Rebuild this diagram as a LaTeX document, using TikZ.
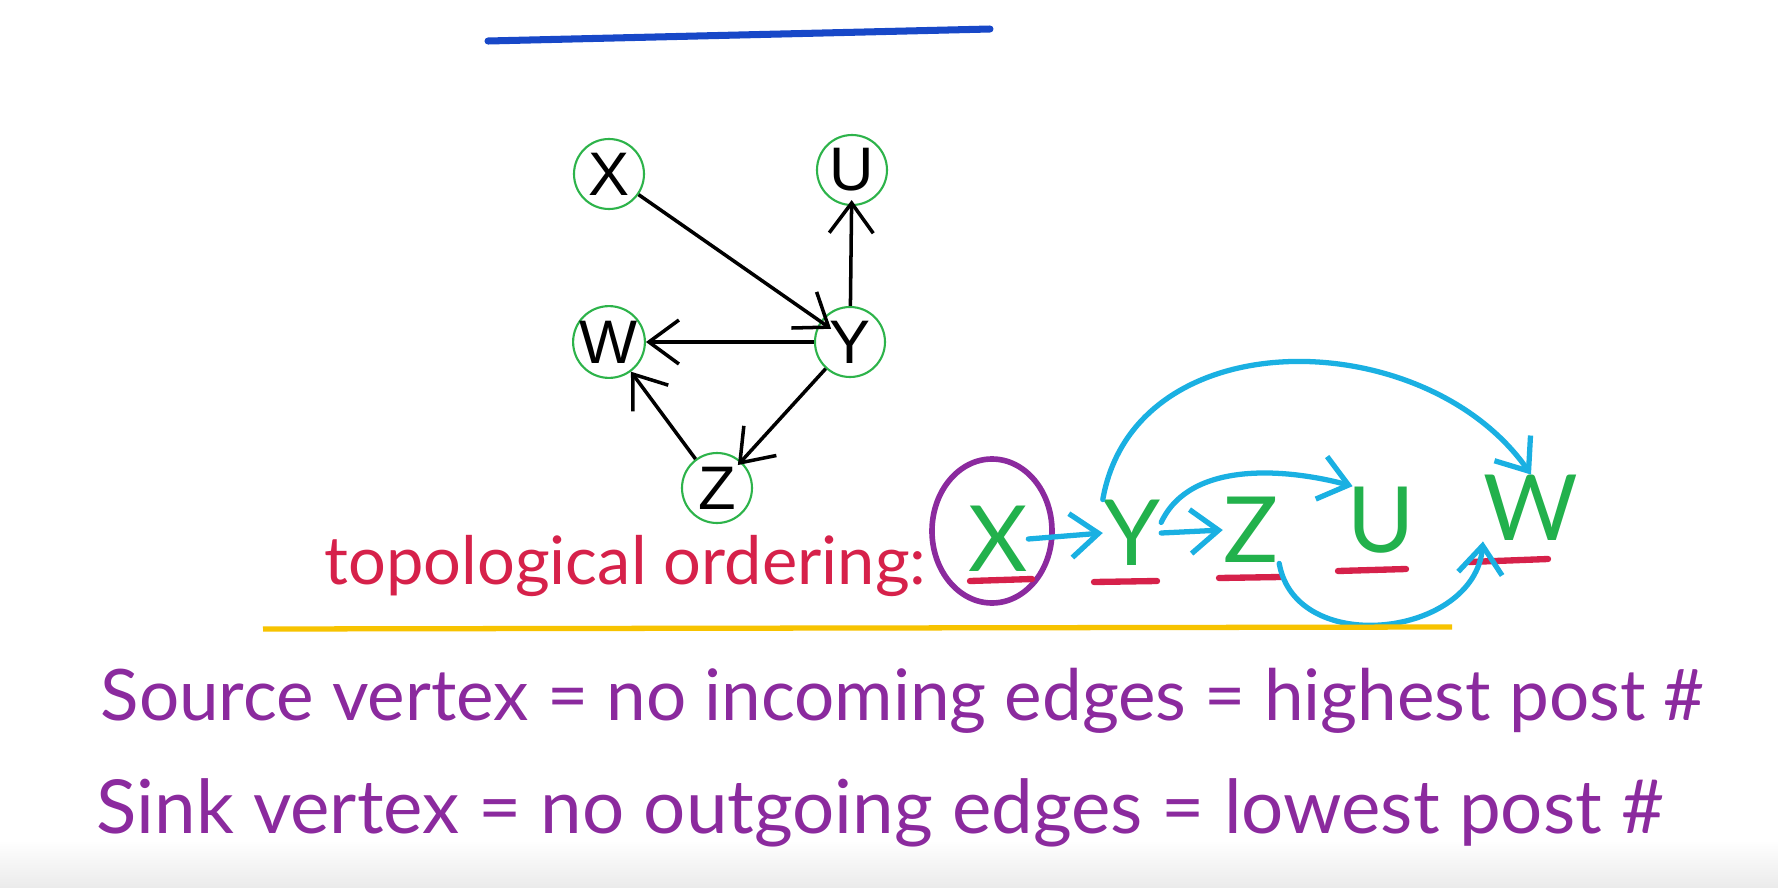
\documentclass[tikz,border=0pt]{standalone}
\usepackage{fontspec}
\setmainfont{Liberation Sans}
\newfontfamily\handfont{Lato}
\usetikzlibrary{arrows.meta,positioning,calc}

\definecolor{ringgreen}{HTML}{2DB34A}
\definecolor{inkgreen}{HTML}{22B14C}
\definecolor{inkred}{HTML}{D6214A}
\definecolor{inkpurple}{HTML}{8B2A9E}
\definecolor{inkcyan}{HTML}{1AB0E2}
\definecolor{inkyellow}{HTML}{F7C300}
\definecolor{inkblue}{HTML}{1848C8}

\begin{document}
\begin{tikzpicture}[x=0.1mm, y=-0.1mm,
  vertex/.style={circle, draw=ringgreen, line width=0.6pt, minimum size=7mm, inner sep=0pt, font=\fontsize{17.5}{17.5}\selectfont},
  edge/.style={-{Straight Barb[length=3mm,width=4.4mm]}, line width=1pt},
  letter/.style={text=inkgreen, inner sep=0pt, font=\handfont\fontsize{26}{26}\selectfont},
  blueedge/.style={-{Straight Barb[length=2.8mm,width=4.4mm]}, draw=inkcyan, line width=1.5pt, line cap=round},
  slot/.style={draw=inkred, line width=1.8pt, line cap=round},
  handtext/.style={anchor=base west, inner sep=0pt, font=\handfont\fontsize{20}{20}\selectfont}
]
\useasboundingbox (0,0) rectangle (1778,888);
\fill[white] (0,0) rectangle (1778,888);
\shade[top color=white, bottom color=black!8] (0,840) rectangle (1778,888);

% title underline
\draw[inkblue, line width=2pt, line cap=round] (488,41) -- (990,29);

% the graph
\node[vertex] (X) at (609,174) {X};
\node[vertex] (U) at (852,170) {U};
\node[vertex] (W) at (609,342) {W};
\node[vertex] (Y) at (850,342) {Y};
\node[vertex] (Z) at (717,488) {Z};
\draw[edge, shorten >=-1.3mm] (X) -- (Y);
\draw[edge, shorten >=-0.6mm] (Y) -- (U);
\draw[edge] (Y) -- (W);
\draw[edge, shorten >=-0.5mm] (Y) -- (Z);
\draw[edge] (Z) -- (W);

% topological ordering
\node[handtext, text=inkred, font=\handfont\fontsize{19}{19}\selectfont] (ordlabel) at (324,584) {topological ordering:};
\node[letter] (ox) at (998,539) {X};
\node[letter] (oy) at (1132,533) {Y};
\node[letter] (oz) at (1251,530) {Z};
\node[letter] (ou) at (1381,520) {U};
\node[letter] (ow) at (1531,508) {W};
\draw[inkpurple, line width=1.6pt] (992,531) ellipse [x radius=6.0mm, y radius=7.2mm];
\draw[slot] (970,581) -- (1032,579);
\draw[slot] (1094,582) -- (1157,581);
\draw[slot] (1219,578) -- (1281,577);
\draw[slot] (1338,571) -- (1406,569);
\draw[slot] (1469,562) -- (1548,559);
\draw[blueedge] (ox.east) -- (oy.west);
\draw[blueedge] (oy.east) -- (oz.west);
\draw[blueedge] (oy.20) to[out=65, in=165, looseness=0.9] (ou.130);
\draw[blueedge] (oy.north west) to[out=80, in=125, looseness=1.1] (ow.north);
\draw[blueedge] (oz.south east) to[out=-80, in=-95, looseness=1.2] (ow.south west);

% separator
\draw[inkyellow, line width=1.5pt] (263,629) -- (1452,627);

% definitions
\node[handtext, text=inkpurple, font=\handfont\fontsize{20.2}{20.2}\selectfont] (srcline) at (100,720) {Source vertex = no incoming edges = highest post \#};
\node[handtext, text=inkpurple, font=\handfont\fontsize{21.2}{21.2}\selectfont] (sinkline) at (96,833) {Sink vertex = no outgoing edges = lowest post \#};
\end{tikzpicture}
\end{document}
